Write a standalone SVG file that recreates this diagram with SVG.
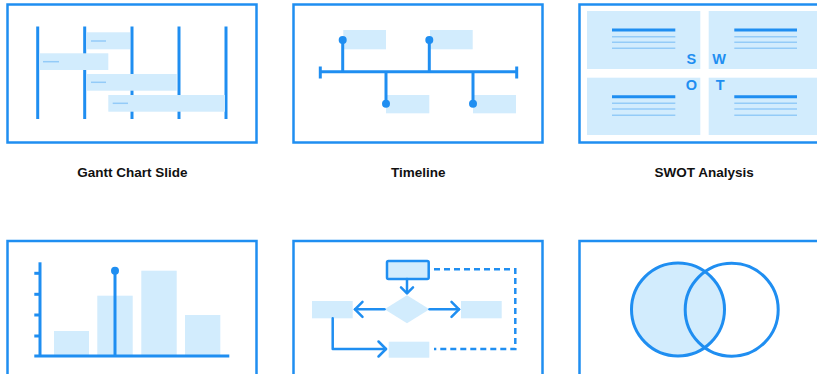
<svg xmlns="http://www.w3.org/2000/svg" width="817" height="374" viewBox="0 0 817 374">
<style>
.frame{fill:#ffffff;stroke:#1f8ef1;stroke-width:2.5}
.ln{stroke:#1f8ef1;stroke-width:3;fill:none}
.ln2{stroke:#1f8ef1;stroke-width:2.5;fill:none;stroke-linecap:round;stroke-linejoin:round}
.lt{fill:#d2ecfd}
.thin{stroke:#93cbf8;stroke-width:1.5}
.dot{fill:#1f8ef1}
.lbl{font-family:"Liberation Sans",Arial,sans-serif;font-weight:bold;font-size:13.5px;fill:#111111;text-anchor:middle}
.let{font-family:"Liberation Sans",Arial,sans-serif;font-weight:bold;font-size:14.5px;fill:#1f8ef1;text-anchor:middle}
</style>
<rect width="817" height="374" fill="#ffffff"/>

<g id="gantt">
<rect class="frame" x="7.5" y="4.5" width="249" height="138"/>
<g class="ln">
<line x1="37.7" y1="26.5" x2="37.7" y2="119"/>
<line x1="84.7" y1="26.5" x2="84.7" y2="119"/>
<line x1="132" y1="26.5" x2="132" y2="119"/>
<line x1="179" y1="26.5" x2="179" y2="119"/>
<line x1="226" y1="26.5" x2="226" y2="119"/>
</g>
<rect class="lt" x="86.7" y="32.3" width="43.3" height="17"/>
<rect class="lt" x="39.3" y="53.3" width="69" height="16.7"/>
<rect class="lt" x="86.7" y="74" width="90" height="16.7"/>
<rect class="lt" x="108.3" y="95" width="116.7" height="16.7"/>
<g class="thin">
<line x1="91" y1="41" x2="106" y2="41"/>
<line x1="43" y1="61.7" x2="59" y2="61.7"/>
<line x1="91" y1="82.3" x2="106" y2="82.3"/>
<line x1="112.7" y1="103.3" x2="128" y2="103.3"/>
</g>
<text class="lbl" x="132.3" y="177.3">Gantt Chart Slide</text>
</g>

<g id="timeline">
<rect class="frame" x="293.5" y="4.5" width="249" height="138"/>
<rect class="lt" x="343.3" y="30" width="42.7" height="19.3"/>
<rect class="lt" x="430" y="30" width="42.7" height="19.3"/>
<rect class="lt" x="386" y="95" width="43.3" height="18.3"/>
<rect class="lt" x="473" y="95" width="43" height="18.3"/>
<g class="ln">
<line x1="320.3" y1="71.7" x2="516.7" y2="71.7"/>
<line x1="320.3" y1="66.5" x2="320.3" y2="78.5"/>
<line x1="516.7" y1="66.5" x2="516.7" y2="78.5"/>
<line x1="342.7" y1="40" x2="342.7" y2="71.7"/>
<line x1="429.3" y1="40" x2="429.3" y2="71.7"/>
<line x1="386" y1="71.7" x2="386" y2="103.7"/>
<line x1="473" y1="71.7" x2="473" y2="103.7"/>
</g>
<circle class="dot" cx="342.7" cy="40" r="4"/>
<circle class="dot" cx="429.3" cy="40" r="4"/>
<circle class="dot" cx="386" cy="103.7" r="4"/>
<circle class="dot" cx="473" cy="103.7" r="4"/>
<text class="lbl" x="418.3" y="177.3">Timeline</text>
</g>

<g id="swot">
<rect class="frame" x="579.5" y="4.5" width="249" height="138"/>
<rect class="lt" x="587" y="11" width="113.3" height="58"/>
<rect class="lt" x="708.7" y="11" width="113" height="58"/>
<rect class="lt" x="587" y="77.7" width="113.3" height="57.3"/>
<rect class="lt" x="708.7" y="77.7" width="113" height="57.3"/>
<g class="ln">
<line x1="612" y1="30" x2="675.3" y2="30"/>
<line x1="734.3" y1="30" x2="797" y2="30"/>
<line x1="612" y1="96.7" x2="675.3" y2="96.7"/>
<line x1="734.3" y1="96.7" x2="797" y2="96.7"/>
</g>
<g class="thin">
<line x1="612" y1="36.7" x2="675.3" y2="36.7"/>
<line x1="612" y1="42.3" x2="675.3" y2="42.3"/>
<line x1="612" y1="48.3" x2="675.3" y2="48.3"/>
<line x1="734.3" y1="36.7" x2="797" y2="36.7"/>
<line x1="734.3" y1="42.3" x2="797" y2="42.3"/>
<line x1="734.3" y1="48.3" x2="797" y2="48.3"/>
<line x1="612" y1="103.3" x2="675.3" y2="103.3"/>
<line x1="612" y1="109" x2="675.3" y2="109"/>
<line x1="612" y1="115.3" x2="675.3" y2="115.3"/>
<line x1="734.3" y1="103.3" x2="797" y2="103.3"/>
<line x1="734.3" y1="109" x2="797" y2="109"/>
<line x1="734.3" y1="115.3" x2="797" y2="115.3"/>
</g>
<text class="let" x="691.3" y="64.3">S</text>
<text class="let" x="719.2" y="64.3">W</text>
<text class="let" x="691.5" y="90">O</text>
<text class="let" x="720.3" y="90">T</text>
<text class="lbl" x="704.2" y="177.3">SWOT Analysis</text>
</g>

<g id="barchart">
<rect class="frame" x="7.5" y="241" width="249" height="140"/>
<rect class="lt" x="54" y="331" width="35" height="25"/>
<rect class="lt" x="97.3" y="295.7" width="35.4" height="60.3"/>
<rect class="lt" x="141.3" y="270.7" width="35.4" height="85.3"/>
<rect class="lt" x="185" y="315" width="35.3" height="41"/>
<g class="ln">
<line x1="40" y1="262.3" x2="40" y2="356"/>
<line x1="34.3" y1="356" x2="229.3" y2="356"/>
<line x1="34.3" y1="273.3" x2="40" y2="273.3"/>
<line x1="34.3" y1="294.3" x2="40" y2="294.3"/>
<line x1="34.3" y1="315" x2="40" y2="315"/>
<line x1="34.3" y1="336" x2="40" y2="336"/>
<line x1="115" y1="270.7" x2="115" y2="356"/>
</g>
<circle class="dot" cx="115" cy="270.7" r="4"/>
</g>

<g id="flowchart">
<rect class="frame" x="293.5" y="241" width="249" height="140"/>
<rect x="387" y="261" width="41.7" height="18" rx="1.5" fill="#d2ecfd" stroke="#1f8ef1" stroke-width="2.5"/>
<polygon class="lt" points="407,295.3 429.5,309.3 407,323.3 384.5,309.3"/>
<rect class="lt" x="312" y="301" width="40.7" height="17.3"/>
<rect class="lt" x="461" y="301" width="40.7" height="17.3"/>
<rect class="lt" x="388.7" y="341.7" width="40.6" height="16"/>
</g>

<g id="venn">
<rect class="frame" x="579.5" y="241" width="249" height="140"/>
<circle cx="678" cy="309.5" r="46.5" fill="#d2ecfd" stroke="#1f8ef1" stroke-width="3"/>
<circle cx="731.7" cy="309.7" r="46.5" fill="none" stroke="#1f8ef1" stroke-width="3"/>
</g>

<g id="connectors">
<g class="ln2">
<line x1="407" y1="279" x2="407" y2="293"/>
<polyline points="401,287.3 407,293.3 413,287.3"/>
<line x1="384.5" y1="309.3" x2="355" y2="309.3"/>
<polyline points="362.5,301.8 355,309.3 362.5,316.8"/>
<line x1="429.5" y1="309.3" x2="459" y2="309.3"/>
<polyline points="451.5,301.8 459,309.3 451.5,316.8"/>
<polyline points="332.7,318.3 332.7,349 386,349"/>
<polyline points="378.5,341.5 386,349 378.5,356.5"/>
</g>
<polyline points="434,269.3 515.3,269.3 515.3,349 434,349" fill="none" stroke="#1f8ef1" stroke-width="2.5" stroke-dasharray="6,4"/>
</g>
</svg>
